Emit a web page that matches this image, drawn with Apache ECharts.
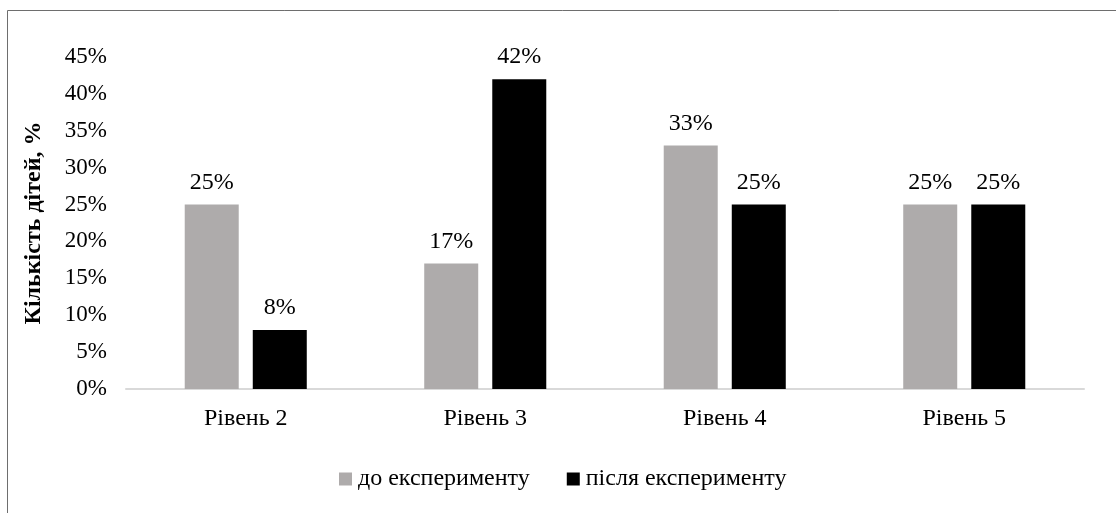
<!DOCTYPE html>
<html><head><meta charset="utf-8">
<script src="https://cdn.jsdelivr.net/npm/echarts@6/dist/echarts.min.js"></script>
<style>html,body{margin:0;padding:0;background:#fff}#c{width:1116px;height:513px}</style>
</head><body><div id="c"></div>
<script>
const categories = ['Рівень 2', 'Рівень 3', 'Рівень 4', 'Рівень 5'];
const before = [25, 17, 33, 25];
const after = [8, 42, 25, 25];
const seriesNames = ['до експерименту', 'після експерименту'];
const yTicks = {min: 0, max: 45, interval: 5};
const font = 'Liberation Serif, serif';
const chart = echarts.init(document.getElementById('c'));
chart.setOption({
  animation: false,
  textStyle: {fontFamily: font},
  graphic: [{type: 'rect', shape: {x: 7.5, y: 10.5, width: 1300, height: 700}, style: {fill: 'none', stroke: '#6e6e6e', lineWidth: 1}, silent: true, z: -1}],
  grid: {left: 126, right: 32, top: 57, bottom: 124},
  legend: {
    bottom: 17, left: 334, itemWidth: 13, itemHeight: 13, itemGap: 37, icon: 'rect',
    textStyle: {fontFamily: font, fontSize: 24, color: '#000', padding: [0, 0, 0, 1]},
    data: seriesNames
  },
  xAxis: {
    type: 'category', data: categories,
    axisLine: {lineStyle: {color: '#d9d9d9', width: 2}},
    axisTick: {show: false},
    axisLabel: {fontFamily: font, fontSize: 24, color: '#000', margin: 18}
  },
  yAxis: {
    type: 'value', min: yTicks.min, max: yTicks.max, interval: yTicks.interval,
    name: 'Кількість дітей, %', nameLocation: 'middle', nameGap: 80, nameRotate: 90,
    nameTextStyle: {fontFamily: font, fontSize: 24, fontWeight: 'bold', color: '#000'},
    axisLine: {show: false}, axisTick: {show: false}, splitLine: {show: false},
    axisLabel: {fontFamily: font, fontSize: 23, color: '#000', margin: 19, formatter: v => v + '%'}
  },
  series: [
    {name: seriesNames[0], type: 'bar', data: before, barWidth: 54, barGap: '26%',
     itemStyle: {color: '#aeabab'},
     label: {show: true, position: 'top', distance: 10, formatter: p => p.value + '%', fontFamily: font, fontSize: 24, color: '#000'}},
    {name: seriesNames[1], type: 'bar', data: after, barWidth: 54,
     itemStyle: {color: '#000'},
     label: {show: true, position: 'top', distance: 10, formatter: p => p.value + '%', fontFamily: font, fontSize: 24, color: '#000'}}
  ]
});
</script></body></html>
